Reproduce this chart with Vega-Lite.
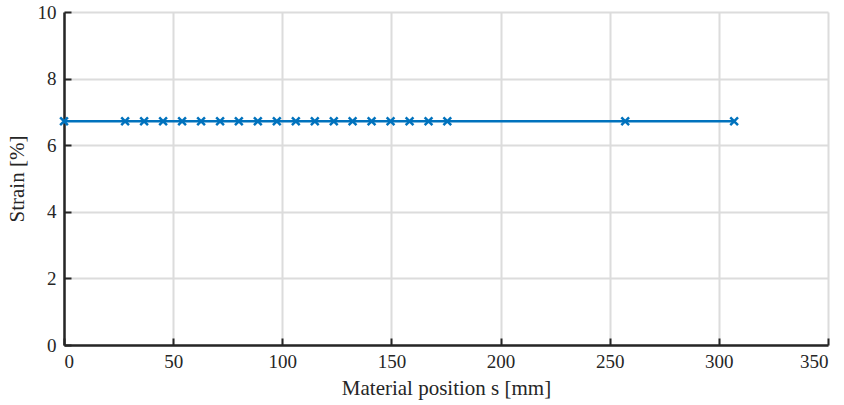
{
  "$schema": "https://vega.github.io/schema/vega-lite/v6.json",
  "width": 764,
  "height": 333,
  "autosize": {"type": "none"},
  "padding": {"left": 64, "top": 12, "right": 16, "bottom": 60},
  "background": "white",
  "config": {
    "view": {"stroke": null},
    "font": "Liberation Serif",
    "axis": {
      "domainColor": "#262626",
      "domainWidth": 2.5,
      "tickColor": "#262626",
      "tickWidth": 2,
      "tickSize": -7,
      "gridColor": "#dcdcdc",
      "gridWidth": 2,
      "labelFont": "Liberation Serif",
      "labelFontSize": 19,
      "labelColor": "#262626",
      "titleFont": "Liberation Serif",
      "titleFontSize": 21,
      "titleFontWeight": "normal",
      "titleColor": "#262626"
    }
  },
  "data": {
    "values": [
      {"s": 0, "strain": 6.72},
      {"s": 28.0, "strain": 6.72},
      {"s": 36.7, "strain": 6.72},
      {"s": 45.4, "strain": 6.72},
      {"s": 54.1, "strain": 6.72},
      {"s": 62.8, "strain": 6.72},
      {"s": 71.5, "strain": 6.72},
      {"s": 80.1, "strain": 6.72},
      {"s": 88.8, "strain": 6.72},
      {"s": 97.5, "strain": 6.72},
      {"s": 106.2, "strain": 6.72},
      {"s": 114.9, "strain": 6.72},
      {"s": 123.6, "strain": 6.72},
      {"s": 132.2, "strain": 6.72},
      {"s": 140.9, "strain": 6.72},
      {"s": 149.6, "strain": 6.72},
      {"s": 158.3, "strain": 6.72},
      {"s": 167.0, "strain": 6.72},
      {"s": 175.6, "strain": 6.72},
      {"s": 257.1, "strain": 6.72},
      {"s": 307.0, "strain": 6.72}
    ]
  },
  "encoding": {
    "x": {
      "field": "s", "type": "quantitative",
      "scale": {"domain": [0, 350], "nice": false, "zero": false},
      "axis": {"values": [0, 50, 100, 150, 200, 250, 300, 350], "title": "Material position s [mm]", "labelPadding": 14, "titlePadding": 6}
    },
    "y": {
      "field": "strain", "type": "quantitative",
      "scale": {"domain": [0, 10], "nice": false},
      "axis": {"values": [0, 2, 4, 6, 8, 10], "title": "Strain [%]", "labelPadding": 15, "titlePadding": 10}
    }
  },
  "layer": [
    {"mark": {"type": "line", "color": "#0072BD", "strokeWidth": 2.5}},
    {"mark": {"type": "point", "shape": "M-1,-1L1,1M1,-1L-1,1", "filled": false, "color": "#0072BD", "strokeWidth": 2.5, "size": 60, "opacity": 1}}
  ]
}
